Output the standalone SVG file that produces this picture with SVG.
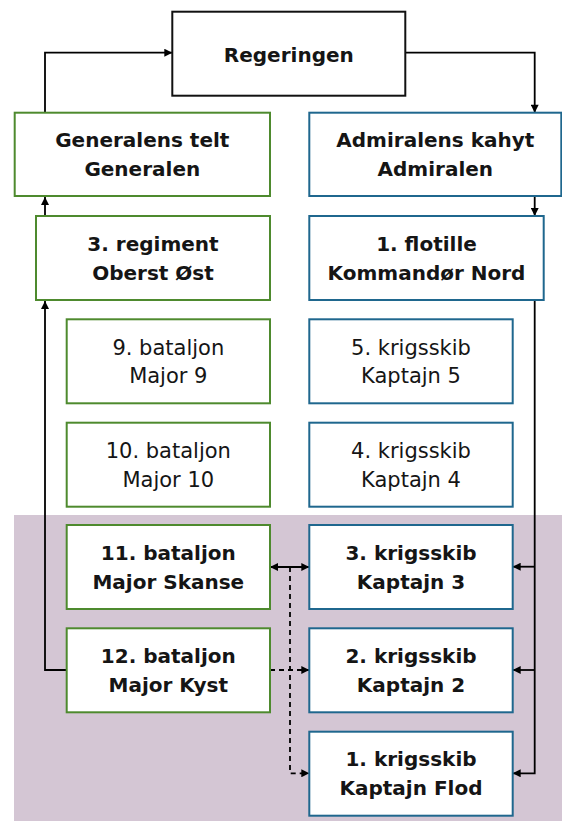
<svg xmlns="http://www.w3.org/2000/svg" width="562" height="821" viewBox="0 0 562 821">
<defs>
<style>
.box{fill:#fff;stroke-width:2}
.g{stroke:#4e8a2e}
.b{stroke:#1f678e}
.k{stroke:#111}
text{font-family:"DejaVu Sans","Liberation Sans",sans-serif;text-anchor:middle;fill:#151515}
.bd{font-weight:bold;font-size:20px}
.rg{font-size:21px}
.conn path{fill:none;stroke:#000;stroke-width:1.8}
.conn path.d{stroke-dasharray:5 4}
</style>
<marker id="ah" viewBox="0 0 10 10" refX="10" refY="5" markerUnits="userSpaceOnUse" markerWidth="9" markerHeight="8" orient="auto-start-reverse">
<path d="M0,0 L10,5 L0,10 z" fill="#000"/>
</marker>
</defs>
<rect x="14" y="515" width="548" height="306" fill="#d4c6d4"/>
<g id="connectors" class="conn">
<path d="M45,112.7 V52.7 H172.3" marker-end="url(#ah)"/>
<path d="M405.3,52.7 H534.7 V112.7" marker-end="url(#ah)"/>
<path d="M534.7,196 V216" marker-end="url(#ah)"/>
<path d="M45,216 V197" marker-end="url(#ah)"/>
<path d="M66.7,670 H45 V301" marker-end="url(#ah)"/>
<path d="M534.7,300 V773.3 H512.7" marker-end="url(#ah)"/>
<path d="M534.7,566.7 H512.7" marker-end="url(#ah)"/>
<path d="M534.7,670 H512.7" marker-end="url(#ah)"/>
<path d="M270,567 H309.3" marker-start="url(#ah)" marker-end="url(#ah)"/>
<path class="d" d="M290,567 V773.3 H309.3" marker-end="url(#ah)"/>
<path class="d" d="M270,670 H309.3" marker-end="url(#ah)"/>
</g>
<g id="regeringen"><rect class="box k" x="172.3" y="11.7" width="233" height="84"/><text class="bd" x="288.8" y="61.5">Regeringen</text></g>
<g id="generalens"><rect class="box g" x="14.7" y="112.7" width="255.3" height="83.3"/><text class="bd" x="142.3" y="146.8">Generalens telt</text><text class="bd" x="142.3" y="175.8">Generalen</text></g>
<g id="admiralens"><rect class="box b" x="309.3" y="112.7" width="252" height="83.3"/><text class="bd" x="435.3" y="146.8">Admiralens kahyt</text><text class="bd" x="435.3" y="175.8">Admiralen</text></g>
<g id="regiment3"><rect class="box g" x="36" y="216" width="234" height="84"/><text class="bd" x="153" y="250.5">3. regiment</text><text class="bd" x="153" y="279.5">Oberst Øst</text></g>
<g id="flotille1"><rect class="box b" x="309.3" y="216" width="234.4" height="84"/><text class="bd" x="426.5" y="250.5">1. flotille</text><text class="bd" x="426.5" y="279.5">Kommandør Nord</text></g>
<g id="bataljon9"><rect class="box g" x="66.7" y="319.3" width="203.3" height="84"/><text class="rg" x="168.3" y="354.8">9. bataljon</text><text class="rg" x="168.3" y="383.3">Major 9</text></g>
<g id="krigsskib5"><rect class="box b" x="309.3" y="319.3" width="203.4" height="84"/><text class="rg" x="411" y="354.8">5. krigsskib</text><text class="rg" x="411" y="383.3">Kaptajn 5</text></g>
<g id="bataljon10"><rect class="box g" x="66.7" y="422.7" width="203.3" height="84"/><text class="rg" x="168.3" y="458.2">10. bataljon</text><text class="rg" x="168.3" y="486.7">Major 10</text></g>
<g id="krigsskib4"><rect class="box b" x="309.3" y="422.7" width="203.4" height="84"/><text class="rg" x="411" y="458.2">4. krigsskib</text><text class="rg" x="411" y="486.7">Kaptajn 4</text></g>
<g id="bataljon11"><rect class="box g" x="66.7" y="525" width="203.3" height="84"/><text class="bd" x="168.3" y="559.5">11. bataljon</text><text class="bd" x="168.3" y="588.5">Major Skanse</text></g>
<g id="krigsskib3"><rect class="box b" x="309.3" y="525" width="203.4" height="84"/><text class="bd" x="411" y="559.5">3. krigsskib</text><text class="bd" x="411" y="588.5">Kaptajn 3</text></g>
<g id="bataljon12"><rect class="box g" x="66.7" y="628.3" width="203.3" height="84"/><text class="bd" x="168.3" y="662.8">12. bataljon</text><text class="bd" x="168.3" y="691.8">Major Kyst</text></g>
<g id="krigsskib2"><rect class="box b" x="309.3" y="628.3" width="203.4" height="84"/><text class="bd" x="411" y="662.8">2. krigsskib</text><text class="bd" x="411" y="691.8">Kaptajn 2</text></g>
<g id="krigsskib1"><rect class="box b" x="309.3" y="731.7" width="203.4" height="84"/><text class="bd" x="411" y="766.2">1. krigsskib</text><text class="bd" x="411" y="795.2">Kaptajn Flod</text></g>
</svg>
